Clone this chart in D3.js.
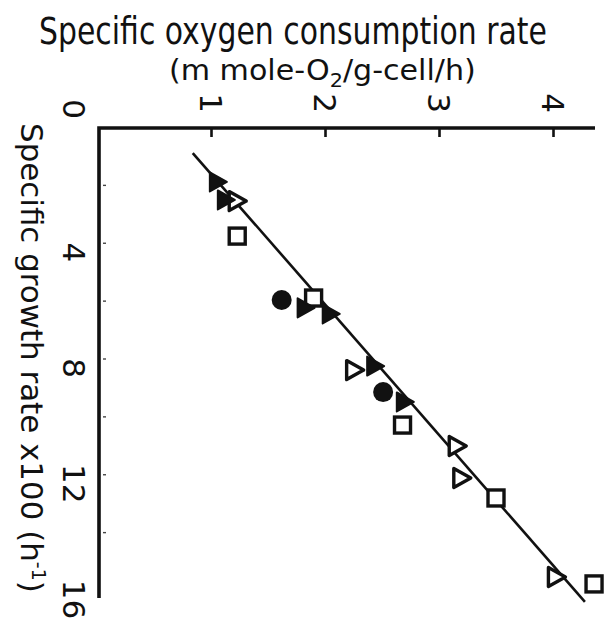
<!DOCTYPE html>
<html>
<head>
<meta charset="utf-8">
<script src="https://cdn.jsdelivr.net/npm/d3@7"></script>
<style>
  html, body { margin: 0; padding: 0; background: #fff; }
  svg { display: block; }
  text { font-family: "DejaVu Sans", "Liberation Sans", sans-serif; fill: #111; }
  .narrow { font-family: "Liberation Sans Narrow", "DejaVu Sans Condensed", "DejaVu Sans", sans-serif; font-stretch: condensed; }
</style>
</head>
<body>
<svg id="chart" width="614" height="622"></svg>
<script>
// Specific oxygen consumption rate (m mole-O2/g-cell/h) against specific growth rate x100 (h^-1)
const oxygenTicks = [1, 2, 3, 4];
const growthTicks = [4, 8, 12, 16];
const growthMinorTicks = [2, 4, 6, 8, 10, 12, 14];

// filled triangles
const filledTriO2 = [1.06, 1.13, 1.83, 2.05, 2.44, 2.70];
const filledTriMu = [1.90, 2.52, 6.25, 6.46, 8.26, 9.50];
// open triangles
const openTriO2 = [1.23, 2.26, 3.16, 3.20, 4.03];
const openTriMu = [2.56, 8.40, 11.02, 12.13, 15.55];
// open squares
const openSqO2 = [1.23, 1.90, 2.68, 3.50, 4.36];
const openSqMu = [3.77, 5.91, 10.30, 12.82, 15.79];
// filled circles
const filledCircO2 = [1.62, 2.51];
const filledCircMu = [5.98, 9.16];
// fitted straight line (end points)
const fitO2 = [0.84, 4.28];
const fitMu = [0.90, 16.41];

const svg = d3.select("#chart");
const x = d3.scaleLinear().domain([0, 4]).range([97, 553]);
const y = d3.scaleLinear().domain([0, 16]).range([127, 590]);

const axisY0 = 128;   // top axis line
const axisX0 = 99;    // left axis line

// squeeze a text horizontally so that it spans the given width
function fitWidth(sel, placement, width) {
  const w = sel.node().getComputedTextLength();
  sel.attr("transform", `${placement} scale(${width / w},1)`);
}

// frame: top and left axis lines
svg.append("path")
  .attr("d", `M${x(4) + 42},${axisY0} H${axisX0} V${y(16) + 8}`)
  .attr("fill", "none").attr("stroke", "#111").attr("stroke-width", 3.6)
  .attr("stroke-linejoin", "miter");

// top axis ticks and rotated labels
const topAxis = svg.append("g").attr("transform", `translate(0,${axisY0})`)
  .call(d3.axisTop(x).tickValues(oxygenTicks).tickSize(-9).tickFormat(d3.format("d")));
topAxis.select(".domain").remove();
topAxis.selectAll(".tick line").attr("stroke", "#111").attr("stroke-width", 2.6);
topAxis.selectAll(".tick text")
  .attr("x", 0).attr("y", 0).attr("dy", "0.36em")
  .attr("text-anchor", "middle")
  .attr("transform", "translate(0,-25) rotate(90)")
  .style("font-size", "31px").style("fill", "#111");

// left axis minor tick dots
const leftMinor = svg.append("g").attr("transform", `translate(${axisX0},0)`)
  .call(d3.axisLeft(y).tickValues(growthMinorTicks).tickSize(-7).tickFormat(""));
leftMinor.select(".domain").remove();
leftMinor.selectAll(".tick line").attr("stroke", "#444").attr("stroke-width", 1.4)
  .attr("x1", 4).attr("x2", 7);

// left axis rotated labels
const leftAxis = svg.append("g").attr("transform", `translate(${axisX0},0)`)
  .call(d3.axisLeft(y).tickValues(growthTicks).tickSize(0).tickFormat(d3.format("d")));
leftAxis.select(".domain").remove();
leftAxis.selectAll(".tick text")
  .attr("x", 0).attr("y", 0).attr("dy", "0.36em")
  .attr("text-anchor", "middle")
  .attr("transform", "translate(-25,9) rotate(90)")
  .style("font-size", "31px").style("fill", "#111");

// shared zero at the origin
svg.append("text")
  .attr("transform", `translate(${x(0) - 23},${y(0) - 18}) rotate(90)`)
  .attr("text-anchor", "middle").attr("dy", "0.36em")
  .style("font-size", "31px").text("0");

// titles
const title = svg.append("text").attr("class", "narrow")
  .style("font-size", "37px")
  .text("Specific oxygen consumption rate");
fitWidth(title, "translate(39,44)", 508);

const sub = svg.append("text").attr("class", "narrow")
  .style("font-size", "29px");
sub.append("tspan").text("(m mole-O");
sub.append("tspan").attr("dy", 7).style("font-size", "20px").text("2");
sub.append("tspan").attr("dy", -7).text("/g-cell/h)");
fitWidth(sub, "translate(169,80)", 307);

const yl = svg.append("text").attr("class", "narrow")
  .style("font-size", "31px");
yl.append("tspan").text("Specific growth rate x100 (h");
yl.append("tspan").attr("dy", -11).style("font-size", "19px").text("-1");
yl.append("tspan").attr("dy", 11).text(")");
fitWidth(yl, "translate(21,123) rotate(90)", 470);

// fitted line
svg.append("line")
  .attr("x1", x(fitO2[0])).attr("y1", y(fitMu[0]))
  .attr("x2", x(fitO2[1])).attr("y2", y(fitMu[1]))
  .attr("stroke", "#111").attr("stroke-width", 2.6);

const zip = (a, b) => a.map((v, i) => [v, b[i]]);
const tri = "M-8,-9.5 L9,0 L-8,9.5 Z";   // upright triangle turned with the page

// open squares
svg.append("g").selectAll("rect").data(zip(openSqO2, openSqMu)).join("rect")
  .attr("x", d => x(d[0]) - 8).attr("y", d => y(d[1]) - 8)
  .attr("width", 16).attr("height", 16)
  .attr("fill", "#fff").attr("stroke", "#111").attr("stroke-width", 3.4);

// open triangles
svg.append("g").selectAll("path").data(zip(openTriO2, openTriMu)).join("path")
  .attr("d", tri)
  .attr("transform", d => `translate(${x(d[0])},${y(d[1])})`)
  .attr("fill", "#fff").attr("stroke", "#111").attr("stroke-width", 3.4)
  .attr("stroke-linejoin", "round");

// filled triangles
svg.append("g").selectAll("path").data(zip(filledTriO2, filledTriMu)).join("path")
  .attr("d", tri)
  .attr("transform", d => `translate(${x(d[0])},${y(d[1])})`)
  .attr("fill", "#111").attr("stroke", "#111").attr("stroke-width", 2)
  .attr("stroke-linejoin", "round");

// filled circles
svg.append("g").selectAll("circle").data(zip(filledCircO2, filledCircMu)).join("circle")
  .attr("cx", d => x(d[0])).attr("cy", d => y(d[1])).attr("r", 10)
  .attr("fill", "#111");
</script>
</body>
</html>
